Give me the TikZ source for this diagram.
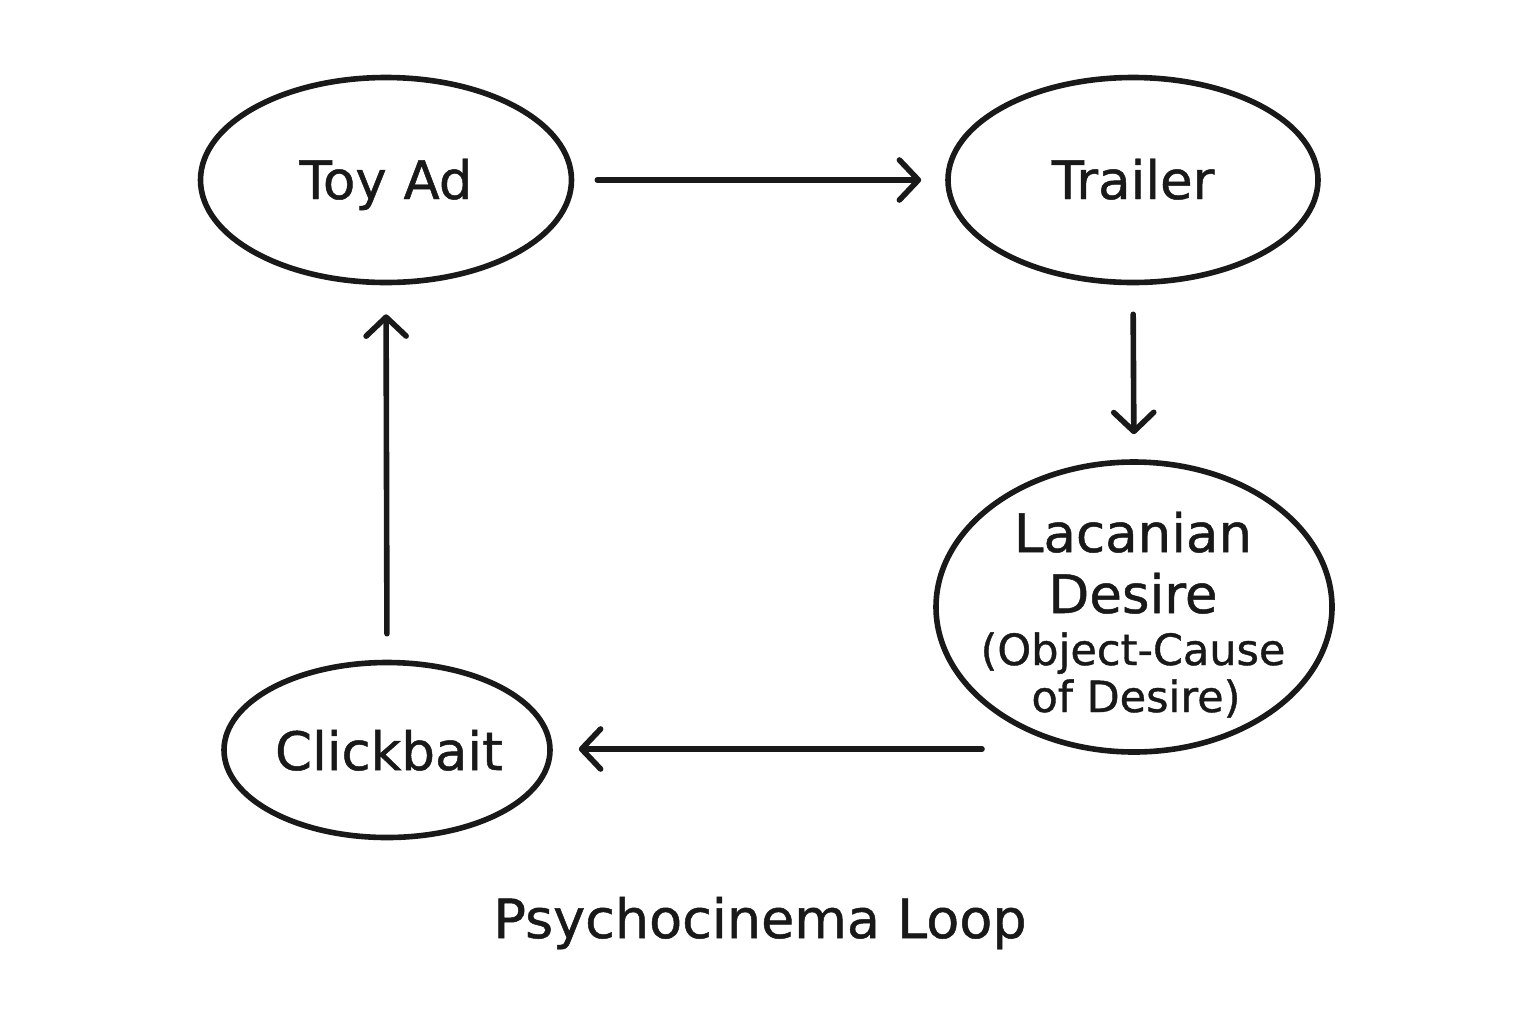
\documentclass[tikz,border=0pt]{standalone}
\usepackage{fontspec}
\setmainfont{DejaVu Sans}[BoldFont={DejaVu Sans},BoldFeatures={FakeBold=0.9}]
\usetikzlibrary{shapes.geometric,arrows.meta}
\begin{document}
\begin{tikzpicture}[x=0.5pt,y=-0.5pt,
  oval/.style={ellipse,draw=black!90,line width=2.8pt,inner sep=0pt},
  lbl/.style={anchor=base,text=black!90,inner sep=0pt,font=\bfseries\fontsize{26.5}{30}\selectfont},
  sublbl/.style={anchor=base,text=black!90,inner sep=0pt,font=\bfseries\fontsize{21.5}{24}\selectfont},
  arr/.style={draw=black!90,line width=2.8pt,line cap=round,-{Straight Barb[length=9.5pt,width=20pt,round]}}]
\useasboundingbox (0,0) rectangle (1536,1024);
% ellipses
\node[oval,minimum width=185.5pt,minimum height=102.5pt] (toy) at (386,180) {};
\node[oval,minimum width=185pt,minimum height=102.5pt] (trl) at (1133,180) {};
\node[oval,minimum width=198pt,minimum height=145pt] (lac) at (1134,607) {};
\node[oval,minimum width=163pt,minimum height=87.5pt] (clk) at (387,750) {};
% labels
\node[lbl] (toyt) at (386,199) {Toy Ad};
\node[lbl] (trlt) at (1133,199) {Trailer};
\node[lbl] (clkt) at (389,770) {Clickbait};
\node[lbl] (lact1) at (1133,552) {Lacanian};
\node[lbl] (lact2) at (1133,613) {Desire};
\node[sublbl] (lact3) at (1133,665) {(Object-Cause};
\node[sublbl] (lact4) at (1136,712) {of Desire)};
\node[lbl,font=\bfseries\fontsize{27}{30}\selectfont] (title) at (760,938) {Psychocinema Loop};
% connectors
\coordinate (lacout) at (982,749);
\draw[arr,shorten <=11.5pt,shorten >=12pt] (toy.east) -- (trl.west);
\draw[arr,shorten <=14.5pt,shorten >=12.5pt] (trl.south) -- (lac.north);
\draw[arr,shorten >=13pt] (lacout) -- (lacout -| clk.east);
\draw[arr,shorten <=13pt,shorten >=14.5pt] (clk.north) -- (toy.south);
\end{tikzpicture}
\end{document}
